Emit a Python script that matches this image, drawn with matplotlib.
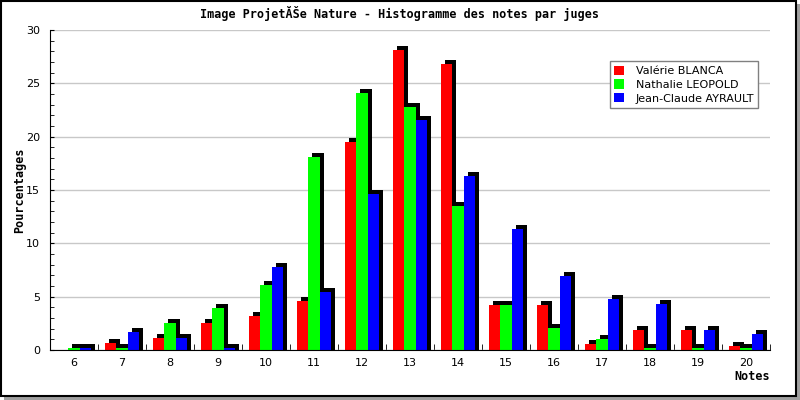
import matplotlib
matplotlib.use("Agg")
import matplotlib.pyplot as plt
import matplotlib.transforms as mtrans
from matplotlib.patches import Rectangle
import numpy as np

notes = [6, 7, 8, 9, 10, 11, 12, 13, 14, 15, 16, 17, 18, 19, 20]
series_names = ["Valérie BLANCA", "Nathalie LEOPOLD", "Jean-Claude AYRAULT"]
blanca = [0.0, 0.7, 1.1, 2.5, 3.2, 4.6, 19.5, 28.1, 26.8, 4.2, 4.2, 0.6, 1.9, 1.9, 0.4]
leopold = [0.2, 0.2, 2.5, 3.9, 6.1, 18.1, 24.1, 22.8, 13.5, 4.2, 2.1, 1.0, 0.2, 0.2, 0.2]
ayrault = [0.2, 1.7, 1.1, 0.2, 7.8, 5.4, 14.6, 21.6, 16.3, 11.3, 6.9, 4.8, 4.3, 1.9, 1.5]
colors = ["#ff0000", "#00ff00", "#0000ff"]

fig = plt.figure(figsize=(8, 4), dpi=100)
fig.patch.set_facecolor("white")
ax = fig.add_axes([0.0625, 0.125, 0.9, 0.8])

x = np.arange(len(notes))
w = 0.23
depth_px = 4
ax.set_ylim(0, 30)
px_per_unit = 0.8 * 400 / 30.0
depth_units = depth_px / px_per_unit
shadow_tr = mtrans.offset_copy(ax.transData, fig=fig, x=depth_px, y=depth_px, units="dots")
for i, (vals, c, name) in enumerate(zip([blanca, leopold, ayrault], colors, series_names)):
    pos = x + (i - 1) * w
    v = np.asarray(vals)
    h = np.where(v > 0, v + depth_units, 0.0)
    ax.bar(pos, h, bottom=-depth_units, width=w, color="black",
           transform=shadow_tr, zorder=2 + 2 * i)
    ax.bar(pos, v, width=w, color=c, label=name, zorder=3 + 2 * i)

ax.set_xlim(-0.5, len(notes) - 0.5)
ax.set_ylim(0, 30)
ax.set_yticks(range(0, 31, 5))
ax.set_yticks(range(0, 31, 1), minor=True)
ax.yaxis.grid(True, which="major", color="#c8c8c8", linewidth=1)
ax.set_axisbelow(True)
ax.set_xticks(x)
ax.set_xticklabels([str(n) for n in notes], fontsize=8, family="DejaVu Sans")
ax.set_xticks(np.arange(-0.5, len(notes), 1), minor=True)
ax.tick_params(axis="x", which="major", length=0, pad=6)
ax.tick_params(axis="x", which="minor", direction="in", length=4, color="black")
ax.tick_params(axis="y", which="both", direction="in", length=3, labelsize=8, pad=7)
for lbl in ax.get_yticklabels():
    lbl.set_family("DejaVu Sans")
for s in ["top", "right"]:
    ax.spines[s].set_visible(False)
ax.spines["left"].set_color("black")
ax.spines["bottom"].set_color("black")
ax.spines["bottom"].set_zorder(10)

fig.text(0.5, 0.967, "Image ProjetĂŠe Nature - Histogramme des notes par juges",
         ha="center", va="center", fontsize=8.5, fontweight="bold", family="DejaVu Sans Mono")
fig.text(0.024, 0.525, "Pourcentages", rotation=90, ha="center", va="center",
         fontsize=8.5, fontweight="bold", family="DejaVu Sans Mono")
fig.text(0.94, 0.058, "Notes", ha="center", va="center",
         fontsize=8.5, fontweight="bold", family="DejaVu Sans Mono")

leg = ax.legend(loc="upper left", bbox_to_anchor=(0.77, 0.92), fontsize=8,
                frameon=True, fancybox=False, framealpha=1, edgecolor="#808080",
                handlelength=0.9, handleheight=0.9, borderpad=0.4, labelspacing=0.3,
                handletextpad=1.0)
leg.get_frame().set_linewidth(1)
leg.set_zorder(20)

# outer frame with shadow
fig.patches.append(Rectangle((4 / 800, 0), 796 / 800, 396 / 400, transform=fig.transFigure,
                             facecolor="#a0a0a0", edgecolor="none", zorder=-2))
fig.patches.append(Rectangle((0.5 / 800, 4.5 / 400), 795 / 800, 395 / 400, transform=fig.transFigure,
                             facecolor="white", edgecolor="black", linewidth=1.5, zorder=-1))

fig.savefig("out.png", dpi=100)
